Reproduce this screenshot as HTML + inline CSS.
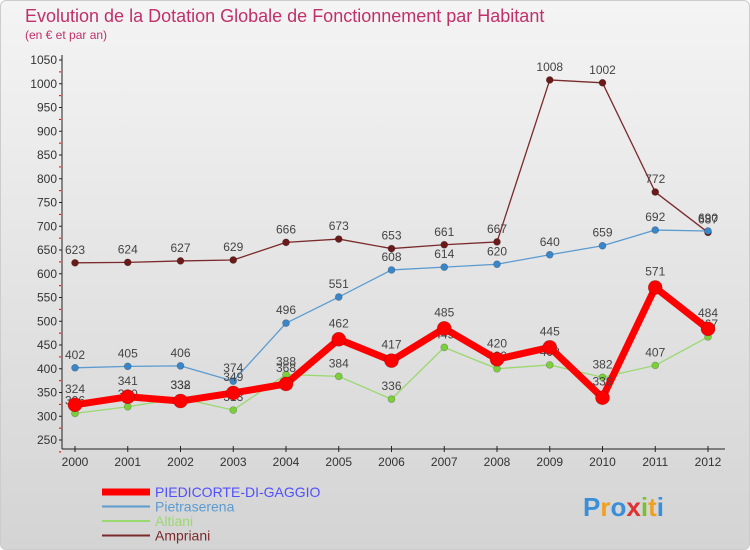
<!DOCTYPE html>
<html><head><meta charset="utf-8"><style>
body{margin:0;width:750px;height:550px;overflow:hidden;font-family:"Liberation Sans",sans-serif}
#wrap{position:absolute;left:0;top:0;width:748px;height:548px;border:1px solid #ccc;border-radius:6px;background:linear-gradient(#f4f4f4,#d4d4d4)}
</style></head><body>
<div id="wrap"></div>
<svg id="c" width="750" height="550" style="position:absolute;left:0;top:0"></svg>
<script>
const years=[2000,2001,2002,2003,2004,2005,2006,2007,2008,2009,2010,2011,2012];
const yTicks=[250,300,350,400,450,500,550,600,650,700,750,800,850,900,950,1000,1050];
const piedicorte=[324,341,332,349,368,462,417,485,420,445,339,571,484];
const pietraserena=[402,405,406,374,496,551,608,614,620,640,659,692,690];
const altiani=[306,320,338,313,388,384,336,445,400,408,382,407,467];
const ampriani=[623,624,627,629,666,673,653,661,667,1008,1002,772,687];
const NS="http://www.w3.org/2000/svg";
const svg=document.getElementById('c');
const X=i=>75+i*52.75;
const Y=v=>440-(v-250)*0.475;
function el(t,a,p){const e=document.createElementNS(NS,t);for(const k in a)e.setAttribute(k,a[k]);(p||svg).appendChild(e);return e;}
function tx(x,y,s,a){const e=el('text',Object.assign({x:x,y:y},a));e.textContent=s;return e;}
let t=tx(25,22,'Evolution de la Dotation Globale de Fonctionnement par Habitant',{fill:'#c0306a','font-size':18});


t=tx(25,39,'(en € et par an)',{fill:'#c0306a','font-size':12});


// axes
let ax=el('line',{x1:62,y1:55,x2:62,y2:449,stroke:'#222'});


ax=el('line',{x1:62,y1:449,x2:725,y2:449,stroke:'#222'});


yTicks.forEach(v=>{
 const l=tx(57,Y(v)+4,String(v),{'text-anchor':'end','font-size':12,fill:'#333'});
 
 
 el('line',{x1:59,y1:Y(v),x2:62,y2:Y(v),stroke:'#222'});
 el('line',{x1:59,y1:Y(v)+11.9,x2:61,y2:Y(v)+11.9,stroke:'#e00'});
});
years.forEach((yr,i)=>{
 el('line',{x1:X(i),y1:446,x2:X(i),y2:452,stroke:'#222'});
 const l=tx(X(i),466,String(yr),{'text-anchor':'middle','font-size':12,fill:'#333'});
 
 
});
function series(data,color,w,r,dot,name,lab){
 const g=el('g',{});
 
 
 el('polyline',{points:data.map((v,i)=>X(i)+','+Y(v)).join(' '),fill:'none',stroke:color,'stroke-width':w,'stroke-linejoin':'round'},g);
 data.forEach((v,i)=>{
  const c=el('circle',{cx:X(i),cy:Y(v),r:r,fill:dot,stroke:'rgba(0,0,0,0.25)','stroke-width':0.7},g);
  
  
  const l=tx(X(i),Y(v)-(lab||9),String(v),{'text-anchor':'middle','font-size':12,fill:'#444'},g);
 });
}
series(ampriani,'#7a2a2a',1.3,3.5,'#6b1a1a','series-ampriani');
series(pietraserena,'#5b9bd0',1.3,3.5,'#3a86c8','series-pietraserena');
series(altiani,'#9ad870',1.3,3.5,'#7ccf3a','series-altiani');
series(piedicorte,'#ff0000',7,7,'#ff0000','series-piedicorte',12);
// legend
const leg=[['PIEDICORTE-DI-GAGGIO','#ff0000',7,'#5050ff'],['Pietraserena','#5b9bd0',2,'#5b9bd0'],['Altiani','#9ad870',2,'#9ad870'],['Ampriani','#7a2a2a',2,'#7a2a2a']];
leg.forEach((d,i)=>{
 const g=el('g',{});
 
 
 const y=492+i*14.5;
 el('line',{x1:102,y1:y,x2:150,y2:y,stroke:d[1],'stroke-width':d[2]},g);
 tx(155,y+5,d[0],{'font-size':14,fill:d[3]},g);
});
const lg=tx(583,516,'',{'font-size':26,'font-weight':'bold'});


[['P','#3a8fd8'],['r','#f0a020'],['o','#3a8fd8'],['x','#e03030'],['i','#7cc030'],['t','#f0a020'],['i','#3a8fd8']].forEach(d=>{const s=el('tspan',{fill:d[1]},lg);s.textContent=d[0];});
</script>
</body></html>
